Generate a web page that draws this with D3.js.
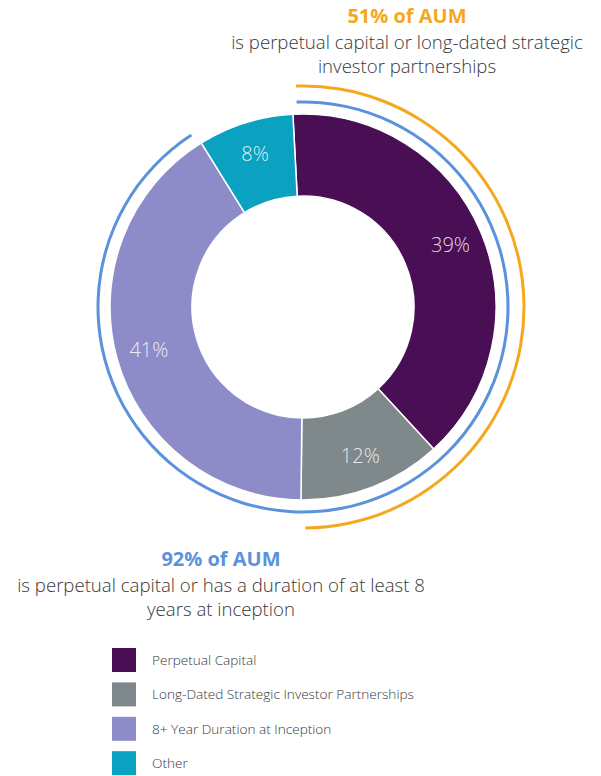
<!DOCTYPE html>
<html lang="en">
  <head>
    <meta charset="utf-8">
    <title>AUM duration</title>
    <style>
      body { margin: 0; background: #fff; }
      svg text { font-family: "Open Sans", sans-serif; }
    </style>
  </head>
  <body>
    <svg id="chart" width="601" height="776"></svg>
  </body>
  <script src="https://cdn.jsdelivr.net/npm/d3@7"></script>
  <script type="text/javascript">

    // chart data
    var categories = ['Perpetual Capital', 'Long-Dated Strategic Investor Partnerships',
                      '8+ Year Duration at Inception', 'Other'];
    var shares = [39, 12, 41, 8];
    var colors = ['#4a0e55', '#7f898c', '#8e8cc8', '#0ba1c1'];

    // brackets round the ring: how many slices (from the start) each one covers
    var bracketSpan = [2, 3];
    var bracketColor = ['#f5a81e', '#5b92dc'];
    var bracketHead = ['51% of AUM', '92% of AUM'];
    var bracketText = [
      ['is perpetual capital or long-dated strategic', 'investor partnerships'],
      ['is perpetual capital or has a duration of at least 8', 'years at inception']
    ];

    var svg = d3.select('#chart');
    var cx = 303, cy = 307;
    var rOuter = 193, rInner = 111;
    var rad = Math.PI / 180;
    var start = -3 * rad;

    var pie = d3.pie().sort(null).value(function(d) { return d; })
      .startAngle(start).endAngle(start + 2 * Math.PI);
    var slices = pie(shares);

    var ring = svg.append('g').attr('transform', 'translate(' + cx + ',' + cy + ')');
    var arc = d3.arc().innerRadius(rInner).outerRadius(rOuter);

    ring.selectAll('path.slice').data(slices).enter().append('path')
      .attr('class', 'slice')
      .attr('d', arc)
      .attr('fill', function(d, i) { return colors[i]; })
      .attr('stroke', '#fff')
      .attr('stroke-width', 1.5);

    var labelArc = d3.arc().innerRadius(160).outerRadius(160);
    ring.selectAll('text.pct').data(slices).enter().append('text')
      .attr('class', 'pct')
      .attr('transform', function(d) { return 'translate(' + labelArc.centroid(d) + ')'; })
      .attr('text-anchor', 'middle')
      .attr('dy', '0.35em')
      .attr('font-size', 20)
      .attr('font-weight', 300)
      .attr('fill', '#fff')
      .attr('fill-opacity', 0.85)
      .text(function(d) { return d.data + '%'; });

    // bracket arcs (orange outer, blue inner)
    var bracketR = [221, 205];
    var inset = 1.2 * rad;
    bracketSpan.forEach(function(n, k) {
      var a = d3.arc().innerRadius(bracketR[k] - 1.5).outerRadius(bracketR[k] + 1.5)
        .startAngle(slices[0].startAngle + inset)
        .endAngle(slices[n - 1].endAngle - inset);
      ring.append('path').attr('d', a()).attr('fill', bracketColor[k]);
    });

    // callout texts
    var notes = [
      { x: 407, y: 23, k: 0 },
      { x: 221, y: 566, k: 1 }
    ];
    notes.forEach(function(n) {
      svg.append('text')
        .attr('x', n.x).attr('y', n.y)
        .attr('text-anchor', 'middle')
        .attr('font-size', 20)
        .attr('font-weight', 700)
        .attr('fill', bracketColor[n.k])
        .text(bracketHead[n.k]);
      bracketText[n.k].forEach(function(line, j) {
        svg.append('text')
          .attr('x', n.x).attr('y', n.y + 26 + j * 24)
          .attr('text-anchor', 'middle')
          .attr('font-size', 18.6)
          .attr('font-weight', 300)
          .attr('fill', '#383838')
          .text(line);
      });
    });

    // legend
    var legend = svg.append('g').attr('transform', 'translate(112,648)');
    var row = legend.selectAll('g').data(categories).enter().append('g')
      .attr('transform', function(d, i) { return 'translate(0,' + (i * 34.4) + ')'; });
    row.append('rect')
      .attr('width', 24).attr('height', 24)
      .attr('fill', function(d, i) { return colors[i]; });
    row.append('text')
      .attr('x', 40).attr('y', 12).attr('dy', '0.35em')
      .attr('font-size', 13.6)
      .attr('font-weight', 300)
      .attr('fill', '#383838')
      .text(function(d) { return d; });

  </script>
</html>
